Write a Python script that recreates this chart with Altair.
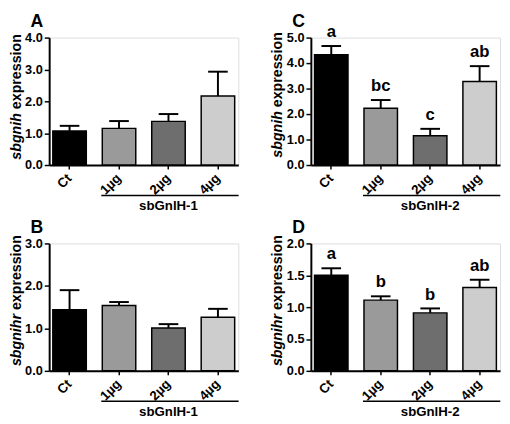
import altair as alt
import pandas as pd

doses = ["Ct", "1µg", "2µg", "4µg"]
fills = ["#000000", "#9a9a9a", "#6e6e6e", "#cdcdcd"]

a_mean = [1.07, 1.15, 1.37, 2.17]
a_err = [1.23, 1.38, 1.60, 2.93]
b_mean = [1.44, 1.54, 1.01, 1.26]
b_err = [1.90, 1.62, 1.10, 1.46]
c_mean = [4.33, 2.23, 1.15, 3.28]
c_err = [4.67, 2.55, 1.42, 3.88]
c_letters = ["a", "bc", "c", "ab"]
d_mean = [1.50, 1.11, 0.91, 1.31]
d_err = [1.61, 1.17, 0.98, 1.43]
d_letters = ["a", "b", "b", "ab"]

a_ticks = [0, 1, 2, 3, 4]
b_ticks = [0, 1, 2, 3]
c_ticks = [0, 1, 2, 3, 4, 5]
d_ticks = [0, 0.5, 1.0, 1.5, 2.0]

FONT = "Liberation Sans"
W, H = 193, 130


def panel(letter, gene, means, errs, ymax, yticks, group, sig=None, junction=62):
    df = pd.DataFrame({"dose": doses, "mean": means, "err": errs,
                       "sig": sig if sig else [""] * 4})
    xs = alt.Scale(domain=doses, paddingInner=0.323, paddingOuter=0.074)
    ys = alt.Scale(domain=[0, ymax], nice=False, zero=True)
    xaxis = alt.Axis(title=None, labelAngle=-45, labelAlign="right", labelBaseline="middle",
                     labelFont=FONT, labelFontWeight="bold", labelFontSize=13.5,
                     labelColor="black", labelPadding=7, domainColor="black", domainWidth=2,
                     tickColor="black", tickWidth=1.5, tickSize=4, grid=False,
                     labelOverlap=False, orient="bottom")
    yaxis = alt.Axis(title=None, values=yticks, format=".1f", grid=False,
                     labelFont=FONT, labelFontWeight="bold", labelFontSize=13,
                     labelColor="black", labelPadding=2, domainColor="black", domainWidth=2,
                     tickColor="black", tickWidth=1.5, tickSize=5, labelOverlap=False,
                     orient="left")

    def X(f, **kw):
        return alt.X(f, scale=xs, axis=xaxis, **kw)

    def Y(f):
        return alt.Y(f, scale=ys, axis=yaxis)

    base = alt.Chart(df)
    bars = base.mark_bar(stroke="black", strokeWidth=1.5).encode(
        x=X("dose:N"), y=Y("mean:Q"),
        fill=alt.Fill("dose:N", scale=alt.Scale(domain=doses, range=fills), legend=None),
    )
    stem = base.mark_rule(color="black", strokeWidth=2).encode(
        x=X("dose:N"), y=Y("mean:Q"), y2="err:Q")
    cap = base.mark_rule(color="black", strokeWidth=2, xOffset=-10, x2Offset=10).encode(
        x=X("dose:N", bandPosition=0.5), x2=alt.X2("dose:N", bandPosition=0.5), y=Y("err:Q"))
    layers = [bars, stem, cap]
    if sig:
        layers.append(base.mark_text(font=FONT, fontWeight="bold", fontSize=17,
                                     baseline="bottom", dy=-5, color="black").encode(
            x=X("dose:N"), y=Y("err:Q"), text="sig:N"))
    gdf = pd.DataFrame({"start": [doses[1]], "end": [doses[3]], "mid": [doses[2]],
                        "label": [group], "letter": [letter],
                        "gene": [gene], "expr": ["expression"]})
    g = alt.Chart(gdf)
    layers.append(g.mark_rule(color="black", strokeWidth=1.5, xOffset=-1, x2Offset=4).encode(
        x=X("start:N", bandPosition=0), x2=alt.X2("end:N", bandPosition=1),
        y=alt.value(H + 31)))
    layers.append(g.mark_text(font=FONT, fontWeight="bold", fontSize=13.5,
                              baseline="alphabetic", color="black").encode(
        x=X("mid:N"), y=alt.value(H + 46), text="label:N"))
    layers.append(g.mark_text(font=FONT, fontWeight="bold", fontSize=18, align="left",
                              baseline="top", color="black").encode(
        x=alt.value(-19), y=alt.value(-25), text="letter:N"))
    layers.append(g.mark_text(font=FONT, fontWeight="bold", fontStyle="italic", fontSize=14.5,
                              angle=270, align="right", baseline="middle", color="black").encode(
        x=alt.value(-33), y=alt.value(junction + 2), text="gene:N"))
    layers.append(g.mark_text(font=FONT, fontWeight="bold", fontSize=14.5,
                              angle=270, align="left", baseline="middle", color="black").encode(
        x=alt.value(-33), y=alt.value(junction - 2), text="expr:N"))
    return alt.layer(*layers).properties(width=W, height=H)


pA = panel("A", "sbgnih", a_mean, a_err, 4, a_ticks, "sbGnlH-1", junction=75)
pC = panel("C", "sbgnih", c_mean, c_err, 5, c_ticks, "sbGnlH-2", sig=c_letters, junction=73)
pB = panel("B", "sbgnihr", b_mean, b_err, 3, b_ticks, "sbGnlH-1", junction=70)
pD = panel("D", "sbgnihr", d_mean, d_err, 2, d_ticks, "sbGnlH-2", sig=d_letters, junction=70)

chart = alt.concat(pA, pC, pB, pD, columns=2,
                   spacing=alt.RowColnumber(row=80, column=74),
                   bounds="flush").properties(padding=0).configure_view(
    stroke=None, strokeWidth=0
).configure_axis(grid=False).configure_axisTop(
    domain=False, ticks=False, labels=False
).configure_axisRight(domain=False, ticks=False, labels=False).configure(background="white")

chart.save("out.html", embed_options={"renderer": "svg", "actions": False})
